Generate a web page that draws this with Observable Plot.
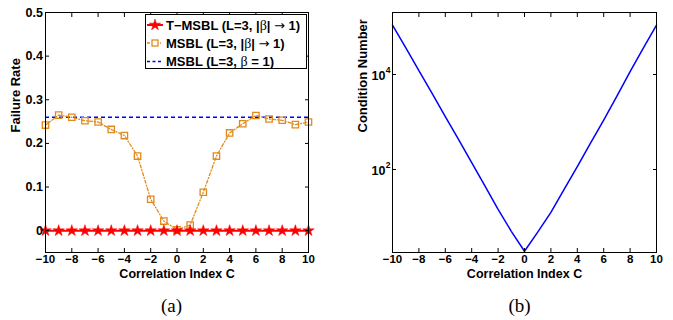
<!DOCTYPE html>
<html>
<head>
<meta charset="utf-8">
<script src="https://cdn.jsdelivr.net/npm/d3@7"></script>
<script src="https://cdn.jsdelivr.net/npm/@observablehq/plot@0.6"></script>
<style>
  html, body { margin: 0; padding: 0; background: #fff; }
  #wrap { position: relative; width: 673px; height: 320px; overflow: hidden; }
  #wrap > .panel { position: absolute; top: 0; }
</style>
</head>
<body>
<div id="wrap"></div>
<script>
// ---- Data ----
const corrIndex = [-10,-9,-8,-7,-6,-5,-4,-3,-2,-1,0,1,2,3,4,5,6,7,8,9,10];
const tmsblRate = [0,0,0,0,0,0,0,0,0,0,0,0,0,0,0,0,0,0,0,0,0];
const msblRate  = [0.242,0.265,0.260,0.252,0.249,0.232,0.218,0.171,0.072,0.022,0.002,
                   0.013,0.088,0.171,0.224,0.245,0.264,0.256,0.253,0.243,0.249];
const msblBeta1Rate = 0.26;
const condNumber = [1.1e5,3.7e4,1.2e4,4.0e3,1.3e3,430,140,45,14.5,5.0,1.9,
                    4.8,12.5,38,115,360,1.1e3,3.5e3,1.15e4,3.6e4,1.1e5];
const xTicks = [-10,-8,-6,-4,-2,0,2,4,6,8,10];
const yTicksA = [0,0.1,0.2,0.3,0.4,0.5];
const yTicksB = [100,10000];
// legend labels split into [text, symbol-font part] pieces
const legendLabels = [
  [["T\u2212MSBL (L=3, |", 0], ["\u03b2", 1], ["| ", 0], ["\u2192", 2], [" 1)", 0]],
  [["MSBL (L=3, |", 0], ["\u03b2", 1], ["| ", 0], ["\u2192", 2], [" 1)", 0]],
  [["MSBL (L=3, ", 0], ["\u03b2", 1], [" = 1)", 0]]
];

const ORANGE = "#e08a1c", RED = "#ff0000", BLUE = "#0000ff";
const FONT = "Liberation Sans, Arial, sans-serif";
const SERIF = "Liberation Serif, Times New Roman, serif";

const rowsA = corrIndex.map((c, i) => ({c, t: tmsblRate[i], m: msblRate[i]}));
const rowsB = corrIndex.map((c, i) => ({c, k: condNumber[i]}));

const fmtX = d => d < 0 ? "\u2212" + Math.abs(d) : String(d);

function frameAxes(yTicks, yFmt) {
  const marks = [
    Plot.frame({stroke: "black", strokeWidth: 1}),
    Plot.axisX(xTicks, {anchor: "bottom", tickSize: 0, tickPadding: 2.5, tickFormat: fmtX, label: null, fontWeight: "bold", fontSize: 11.5}),
    Plot.axisX(xTicks, {anchor: "bottom", tickSize: -4, text: null, label: null}),
    Plot.axisX(xTicks, {anchor: "top", tickSize: -4, text: null, label: null}),
    Plot.axisY(yTicks, {anchor: "left", tickSize: -4, text: null, label: null}),
    Plot.axisY(yTicks, {anchor: "right", tickSize: -4, text: null, label: null}),
    Plot.text(["Correlation Index C"], {frameAnchor: "bottom", dy: 25.5, fontWeight: "bold", fontSize: 12.5, fontFamily: FONT})
  ];
  if (yFmt) marks.push(Plot.axisY(yTicks, {anchor: "left", tickSize: 0, tickPadding: 2.5, tickFormat: yFmt, label: null, fontWeight: "bold", fontSize: 12.5}));
  return marks;
}

const plotA = Plot.plot({
  width: 336, height: 320,
  marginLeft: 45, marginRight: 28, marginTop: 12, marginBottom: 68,
  style: {fontFamily: FONT, color: "black", background: "white", overflow: "visible"},
  x: {domain: [-10, 10]},
  y: {domain: [-0.05, 0.5]},
  marks: [
    Plot.ruleY([msblBeta1Rate], {stroke: BLUE, strokeWidth: 1.5, strokeDasharray: "4,3"}),
    Plot.line(rowsA, {x: "c", y: "m", stroke: ORANGE, strokeWidth: 1.3, strokeDasharray: "3,2,1,2"}),
    Plot.dot(rowsA, {x: "c", y: "m", symbol: "square", r: 3.6, stroke: ORANGE, strokeWidth: 1.3, fill: "none"}),
    Plot.line(rowsA, {x: "c", y: "t", stroke: RED, strokeWidth: 2}),
    Plot.dot(rowsA, {x: "c", y: "t", symbol: "star", r: 3.6, fill: RED, stroke: RED, strokeWidth: 0.5}),
    ...frameAxes(yTicksA, d => d === 0 ? "0" : d.toFixed(1)),
    Plot.text(["Failure Rate"], {frameAnchor: "left", dx: -30, rotate: -90, fontWeight: "bold", fontSize: 13, fontFamily: FONT}),
    Plot.text(["(a)"], {frameAnchor: "bottom", dx: -5.5, dy: 59, fontSize: 19, fontFamily: SERIF})
  ]
});

const plotB = Plot.plot({
  width: 337, height: 320,
  marginLeft: 56, marginRight: 17, marginTop: 12, marginBottom: 68,
  style: {fontFamily: FONT, color: "black", background: "white", overflow: "visible"},
  x: {domain: [-10, 10]},
  y: {type: "log", domain: [1.79, 2.02e5]},
  marks: [
    Plot.line(rowsB, {x: "c", y: "k", stroke: BLUE, strokeWidth: 1.5}),
    ...frameAxes(yTicksB, null),
    Plot.text(yTicksB, {frameAnchor: "left", y: d => d, text: () => "10", textAnchor: "end", dx: -7, dy: 1.5, fontWeight: "bold", fontSize: 12.5, fontFamily: FONT}),
    Plot.text(yTicksB, {frameAnchor: "left", y: d => d, text: d => String(Math.round(Math.log10(d))), textAnchor: "end", dx: -2, dy: -4, fontWeight: "bold", fontSize: 8.5, fontFamily: FONT}),
    Plot.text(["Condition Number"], {frameAnchor: "left", dx: -30, rotate: -90, fontWeight: "bold", fontSize: 13, fontFamily: FONT}),
    Plot.text(["(b)"], {frameAnchor: "bottom", dx: -5, dy: 59, fontSize: 19, fontFamily: SERIF})
  ]
});

const wrap = document.getElementById("wrap");
plotA.classList.add("panel"); plotA.style.left = "0px";
plotB.classList.add("panel"); plotB.style.left = "336px";
wrap.appendChild(plotA);
wrap.appendChild(plotB);

// Legend box (overlay)
const lw = 162, lh = 55;
const ns = "http://www.w3.org/2000/svg";
const lg = document.createElementNS(ns, "svg");
lg.setAttribute("width", lw); lg.setAttribute("height", lh);
lg.style.position = "absolute"; lg.style.left = "145px"; lg.style.top = "14px";
function el(name, attrs, parent) {
  const e = document.createElementNS(ns, name);
  for (const k in attrs) e.setAttribute(k, attrs[k]);
  (parent || lg).appendChild(e);
  return e;
}
el("rect", {x: 0.5, y: 0.5, width: lw - 1, height: lh - 1, fill: "white", stroke: "black", "stroke-width": 1});
const rowY = [11, 29, 47.5];
const styles = [
  {stroke: RED, width: 2, dash: null, sym: "star"},
  {stroke: ORANGE, width: 1.3, dash: "3,2,1,2", sym: "square"},
  {stroke: BLUE, width: 1.5, dash: "3,2.5", sym: null}
];
const pieceFonts = [
  {family: FONT, weight: "bold"},
  {family: SERIF, weight: "normal"},
  {family: "DejaVu Sans", weight: "normal"}
];
legendLabels.forEach((pieces, i) => {
  const y = rowY[i], s = styles[i];
  const ln = el("line", {x1: 2, x2: 18, y1: y, y2: y, stroke: s.stroke, "stroke-width": s.width});
  if (s.dash) ln.setAttribute("stroke-dasharray", s.dash);
  if (s.sym === "star") {
    el("path", {d: d3.symbol(d3.symbolStar, 40)(), transform: `translate(10,${y})`, fill: RED, stroke: RED, "stroke-width": 0.5});
  } else if (s.sym === "square") {
    el("rect", {x: 7, y: y - 3, width: 6, height: 6, fill: "white", stroke: ORANGE, "stroke-width": 1.3});
  }
  const t = el("text", {x: 21, y: y + 4.5, "font-family": FONT, "font-weight": "bold", "font-size": 13, fill: "black", "xml:space": "preserve"});
  t.style.whiteSpace = "pre";
  pieces.forEach(([str, f]) => {
    const sp = el("tspan", {"font-family": pieceFonts[f].family, "font-weight": pieceFonts[f].weight}, t);
    if (f === 1) sp.setAttribute("font-size", 14);
    sp.textContent = str;
  });
});
wrap.appendChild(lg);
</script>
</body>
</html>
